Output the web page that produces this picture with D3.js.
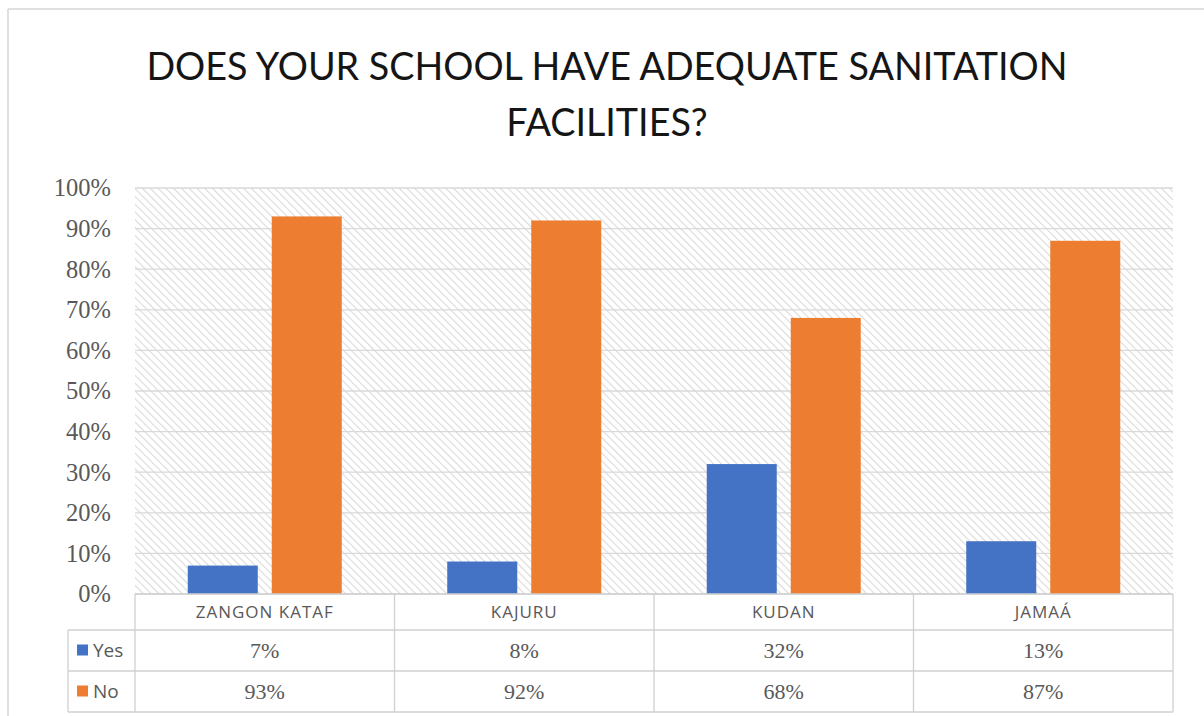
<!DOCTYPE html>
<html>
<head>
<meta charset="utf-8">
<script src="https://cdn.jsdelivr.net/npm/d3@7"></script>
<style>
  html, body { margin: 0; padding: 0; background: #fff; }
  svg { display: block; }
</style>
</head>
<body>
<svg id="chart" width="1204" height="716"></svg>
<script>
// Survey results per local government area
const categories = ["ZANGON KATAF", "KAJURU", "KUDAN", "JAMAÁ"];
const seriesNames = ["Yes", "No"];
const yesValues = [7, 8, 32, 13];
const noValues = [93, 92, 68, 87];
const yTicks = [0, 10, 20, 30, 40, 50, 60, 70, 80, 90, 100];
const titleLines = ["DOES YOUR SCHOOL HAVE ADEQUATE SANITATION", "FACILITIES?"];

const colors = { Yes: "#4472C4", No: "#ED7D31" };
const seriesValues = { Yes: yesValues, No: noValues };

const W = 1204, H = 716;
const plot = { left: 135, right: 1173, top: 188, bottom: 594 };
const table = { legendLeft: 68, rowTops: [594, 630, 671, 712] };
const serif = "'Liberation Serif', 'Times New Roman', 'DejaVu Serif', serif";
const sans = "'Open Sans', 'Noto Sans', sans-serif";

const svg = d3.select("#chart");

// Outer frame (top and left edges)
svg.append("line").attr("x1", 8).attr("x2", W).attr("y1", 9).attr("y2", 9)
  .attr("stroke", "#d6d6d6").attr("stroke-width", 1.5);
svg.append("line").attr("x1", 8).attr("x2", 8).attr("y1", 9).attr("y2", H)
  .attr("stroke", "#d6d6d6").attr("stroke-width", 1.5);

// Title
svg.append("g").selectAll("text").data(titleLines).join("text")
  .attr("x", 607)
  .attr("y", (d, i) => 80 + i * 56)
  .attr("text-anchor", "middle")
  .attr("font-family", "Lato, 'Open Sans', sans-serif")
  .attr("font-size", 37.7)
  .attr("fill", "#151515")
  .text(d => d);

// Diagonal hatch for the plot background
const defs = svg.append("defs");
const pat = defs.append("pattern")
  .attr("id", "hatch")
  .attr("patternUnits", "userSpaceOnUse")
  .attr("width", 5.5).attr("height", 5.5)
  .attr("patternTransform", "rotate(-45)");
pat.append("rect").attr("width", 5.5).attr("height", 5.5).attr("fill", "#fff");
pat.append("line").attr("x1", 0).attr("x2", 0).attr("y1", 0).attr("y2", 5.5)
  .attr("stroke", "#dadada").attr("stroke-width", 2.2);

svg.append("rect")
  .attr("x", plot.left).attr("y", plot.top)
  .attr("width", plot.right - plot.left).attr("height", plot.bottom - plot.top)
  .attr("fill", "url(#hatch)");

// Scales
const x0 = d3.scaleBand().domain(categories).range([plot.left, plot.right]).padding(0);
const x1 = d3.scaleBand().domain(seriesNames).range([0, x0.bandwidth()])
  .paddingInner(0.1667).paddingOuter(0.628);
const y = d3.scaleLinear().domain([0, 100]).range([plot.bottom, plot.top]);

// Horizontal gridlines
svg.append("g").selectAll("line").data(yTicks).join("line")
  .attr("x1", plot.left).attr("x2", plot.right)
  .attr("y1", d => y(d)).attr("y2", d => y(d))
  .attr("stroke", "#d9d9d9").attr("stroke-width", 1.3);

// Y axis labels
const yAxis = d3.axisLeft(y).tickValues(yTicks).tickFormat(d => d + "%").tickSize(0).tickPadding(24);
const yg = svg.append("g").attr("transform", `translate(${plot.left},0)`).call(yAxis);
yg.attr("font-family", serif).attr("font-size", 24.5);
yg.select(".domain").remove();
yg.selectAll("text")
  .attr("font-family", serif)
  .attr("font-size", 24.5)
  .attr("fill", "#595959");

// Bars
const groups = svg.append("g").selectAll("g").data(categories).join("g")
  .attr("transform", d => `translate(${x0(d)},0)`);
groups.selectAll("rect")
  .data((c, i) => seriesNames.map(s => ({ s, v: seriesValues[s][i] })))
  .join("rect")
  .attr("x", d => x1(d.s))
  .attr("width", x1.bandwidth())
  .attr("y", d => y(d.v))
  .attr("height", d => y(0) - y(d.v))
  .attr("fill", d => colors[d.s]);

// Data table below the plot
const tg = svg.append("g");
const lineColor = "#d0d0d0";
// horizontal rules
table.rowTops.forEach((ty, i) => {
  tg.append("line")
    .attr("x1", i === 0 ? plot.left : table.legendLeft).attr("x2", plot.right)
    .attr("y1", ty).attr("y2", ty)
    .attr("stroke", lineColor).attr("stroke-width", 1.3);
});
// vertical rules
const colEdges = categories.map(c => x0(c)).concat([plot.right]);
colEdges.forEach(cx => {
  tg.append("line").attr("x1", cx).attr("x2", cx)
    .attr("y1", table.rowTops[0]).attr("y2", table.rowTops[3])
    .attr("stroke", lineColor).attr("stroke-width", 1.3);
});
tg.append("line").attr("x1", table.legendLeft).attr("x2", table.legendLeft)
  .attr("y1", table.rowTops[1]).attr("y2", table.rowTops[3])
  .attr("stroke", lineColor).attr("stroke-width", 1.3);

// category header
tg.selectAll("text.cat").data(categories).join("text")
  .attr("class", "cat")
  .attr("x", d => x0(d) + x0.bandwidth() / 2)
  .attr("y", (table.rowTops[0] + table.rowTops[1]) / 2 + 6)
  .attr("text-anchor", "middle")
  .attr("font-family", sans)
  .attr("font-size", 17)
  .attr("letter-spacing", 1)
  .attr("fill", "#595959")
  .text(d => d);

// series rows
seriesNames.forEach((s, r) => {
  const top = table.rowTops[r + 1], bot = table.rowTops[r + 2];
  const mid = (top + bot) / 2;
  tg.append("rect").attr("x", 77).attr("y", mid - 6).attr("width", 11).attr("height", 11)
    .attr("fill", colors[s]);
  tg.append("text").attr("x", 93).attr("y", mid + 6.5)
    .attr("font-family", sans).attr("font-size", 19)
    .attr("fill", "#595959").text(s);
  tg.selectAll(null).data(seriesValues[s]).join("text")
    .attr("x", (d, i) => x0(categories[i]) + x0.bandwidth() / 2)
    .attr("y", mid + 7)
    .attr("text-anchor", "middle")
    .attr("font-family", serif)
    .attr("font-size", 22)
    .attr("fill", "#595959")
    .text(d => d + "%");
});
</script>
</body>
</html>
